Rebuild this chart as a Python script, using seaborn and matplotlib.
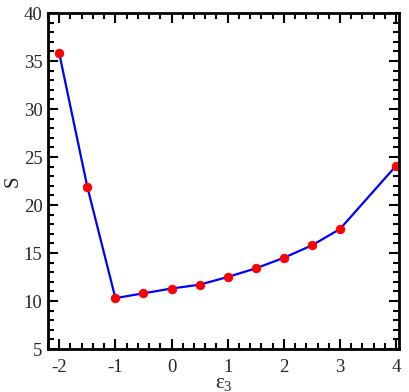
import numpy as np
import pandas as pd
import matplotlib
matplotlib.use("Agg")
import matplotlib.pyplot as plt
import seaborn as sns
from matplotlib.ticker import MultipleLocator

# data
eps3 = [-2, -1.5, -1, -0.5, 0, 0.5, 1, 1.5, 2, 2.5, 3, 4]
S = [35.8, 21.9, 10.3, 10.8, 11.3, 11.7, 12.5, 13.4, 14.5, 15.8, 17.5, 24.1]

sns.set_style("ticks")
plt.rcParams['font.family'] = ['Liberation Serif', 'DejaVu Serif']
plt.rcParams['mathtext.fontset'] = 'stix'
plt.rcParams['axes.unicode_minus'] = False

df = pd.DataFrame({'eps3': eps3, 'S': S})

fig = plt.figure(figsize=(4.09, 3.92), dpi=100)
ax = fig.add_axes([48 / 409, 1 - 349 / 392, 351 / 409, 336 / 392])

sns.lineplot(data=df, x='eps3', y='S', ax=ax, color='blue', linewidth=1.6,
             marker='o', markersize=6, markerfacecolor='red',
             markeredgecolor='red')

ax.set_xlim(-2.2, 4.05)
ax.set_ylim(5, 40)
ax.xaxis.set_major_locator(MultipleLocator(1))
ax.xaxis.set_minor_locator(MultipleLocator(0.2))
ax.yaxis.set_major_locator(MultipleLocator(5))
ax.yaxis.set_minor_locator(MultipleLocator(1))

ax.tick_params(which='both', direction='in', top=True, right=True,
               labelsize=13.5, width=1.5, color='black')
ax.tick_params(which='major', length=7)
ax.tick_params(which='minor', length=4)
ax.tick_params(axis='x', pad=7)
ax.tick_params(axis='y', pad=4)
for sp in ax.spines.values():
    sp.set_linewidth(2)
    sp.set_color('black')

ax.set_xlabel(r'$\mathregular{\varepsilon_3}$', fontsize=15, labelpad=-1)
ax.set_ylabel('S', fontsize=15, labelpad=1)

fig.savefig('out.png', dpi=100)
